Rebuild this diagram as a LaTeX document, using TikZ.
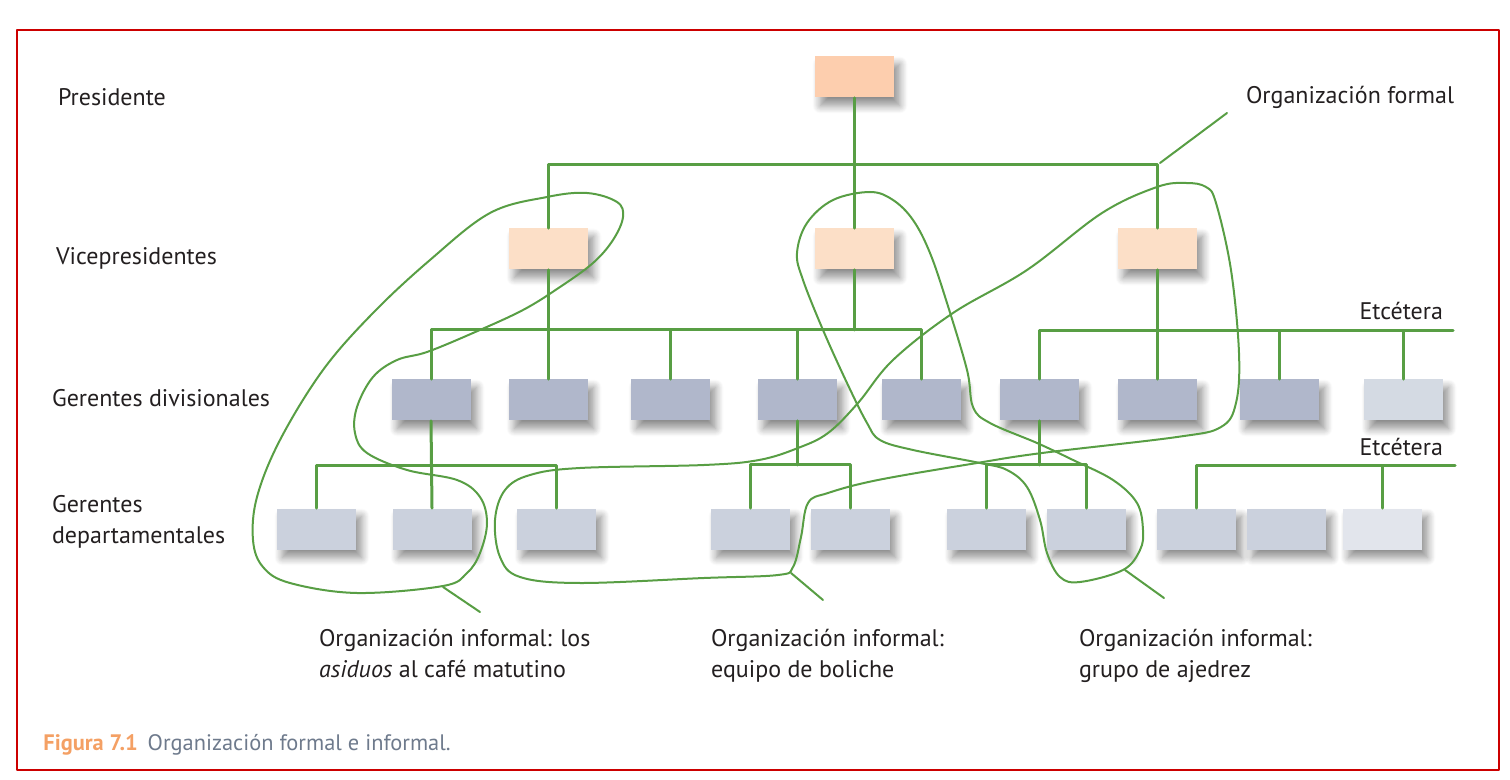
\documentclass[tikz,border=0pt]{standalone}
\usepackage{fontspec}
\setmainfont{PT Sans}
\usetikzlibrary{shadows.blur}
\definecolor{lineas}{RGB}{88,158,68}
\definecolor{presi}{RGB}{253,206,174}
\definecolor{vice}{RGB}{252,223,199}
\definecolor{divis}{RGB}{176,183,203}
\definecolor{divclaro}{RGB}{212,218,227}
\definecolor{depto}{RGB}{203,209,221}
\definecolor{depclaro}{RGB}{226,229,236}
\definecolor{marco}{RGB}{204,0,0}
\definecolor{naranja}{RGB}{244,160,100}
\definecolor{gristxt}{RGB}{110,122,140}
\definecolor{texto}{RGB}{35,31,32}
\begin{document}
\begin{tikzpicture}[x=0.5pt,y=-0.5pt,font=\fontsize{12}{15.5}\selectfont,text=texto,
    line join=round,line cap=round,
    caja/.style={minimum width=39.5pt,minimum height=20.5pt,inner sep=0pt,
        blur shadow={shadow xshift=3pt,shadow yshift=-4pt,shadow blur steps=10,shadow blur radius=4pt,shadow opacity=45}},
    rama/.style={lineas,line width=1.5pt},
    lazo/.style={lineas,line width=1pt}]
\useasboundingbox (0,0) rectangle (1510,780);
\draw[marco,line width=1pt] (17,30) rectangle (1499,770);

% niveles
\node[anchor=west] (lpres) at (51,97) {Presidente};
\node[anchor=west] (lvice) at (49,258) {Vicepresidentes};
\node[anchor=west] (ldiv) at (45,398) {Gerentes divisionales};
\node[anchor=west,align=left] (ldep) at (45,522) {Gerentes\\departamentales};

% cajas
\node[caja,fill=presi] (pres) at (854,77) {};
\foreach \n/\x in {1/548,2/854,3/1157}
    \node[caja,fill=vice] (vp\n) at (\x,249) {};
\foreach \n/\x in {1/431,2/548,3/670,4/797,5/921,6/1039,7/1157,8/1279}
    \node[caja,fill=divis] (gd\n) at (\x,400) {};
\node[caja,fill=divclaro] (gd9) at (1403,400) {};
\foreach \n/\x in {1/316,2/432,3/556,4/750,5/850,6/986,7/1086,8/1196,9/1286}
    \node[caja,fill=depto] (gp\n) at (\x,529) {};
\node[caja,fill=depclaro] (gp10) at (1382,529) {};

% organizacion formal
\coordinate (b1) at (854,165);
\coordinate (b2) at (854,330);
\coordinate (b3) at (1453,331);
\draw[rama] (pres.south) -- (vp2.north);
\draw[rama] (vp1.north) |- (b1) -| (vp3.north);
\draw[rama] (vp1.south) -- (gd2.north);
\draw[rama] (vp2.south) -- (b2);
\draw[rama] (gd1.north) |- (b2) -| (gd5.north);
\foreach \n in {3,4}
    \draw[rama] (gd\n.north) -- (gd\n.north |- b2);
\draw[rama] (vp3.south) -- (gd7.north);
\draw[rama] (gd6.north) |- (b3);
\foreach \n in {8,9}
    \draw[rama] (gd\n.north) -- (gd\n.north |- b3);
\node[anchor=base east] (etc1) at (1450,320) {Etcétera};

\coordinate (c1) at (432,466);
\coordinate (c2) at (797,465);
\coordinate (c3) at (1039,465);
\coordinate (c4) at (1455,466);
\draw[rama] (gd1.south) -- (gp2.north);
\draw[rama] (gp1.north) |- (c1) -| (gp3.north);
\draw[rama] (gd4.south) -- (c2);
\draw[rama] (gp4.north) |- (c2) -| (gp5.north);
\draw[rama] (gd6.south) -- (c3);
\draw[rama] (gp6.north) |- (c3) -| (gp7.north);
\draw[rama] (gp8.north) |- (c4);
\draw[rama] (gp10.north) -- (gp10.north |- c4);
\node[anchor=base east] (etc2) at (1450,456) {Etcétera};

\node[anchor=west] (formal) at (1239,97) {Organización formal};
\coordinate (f1) at (1227,113);
\coordinate (f2) at (1160,163);
\draw[lazo] (f1) -- (f2);

% organizacion informal
\draw[lazo] plot[smooth cycle,tension=0.6] coordinates {(617,202) (587,193) (547,197) (490,213) (430,260) (373,313)
    (323,370) (280,440) (257,497) (253,540) (263,567) (290,583) (357,593) (443,586) (467,573) (480,553)
    (487,523) (480,497) (457,480) (407,470) (367,453) (355,433) (357,407) (373,377) (397,360) (427,352)
    (473,333) (523,310) (560,287) (593,263) (613,240) (623,217)};
\draw[lazo] plot[smooth cycle,tension=0.6] coordinates {(1206,187) (1216,203) (1231,270) (1239,353) (1236,403)
    (1221,427) (1177,437) (1042,453) (977,463) (878,480) (828,493) (808,503) (801,537) (793,567) (778,575)
    (704,578) (580,583) (520,577) (500,557) (495,520) (505,490) (530,475) (580,468) (704,465) (759,460)
    (798,448) (828,433) (858,403) (893,360) (953,313) (1027,270) (1102,213) (1157,187) (1186,183)};
\draw[lazo] plot[smooth cycle,tension=0.6] coordinates {(870,192) (833,200) (807,223) (797,253) (803,280)
    (823,330) (847,383) (867,423) (880,440) (913,450) (980,463) (1007,470) (1027,487) (1040,520) (1047,553)
    (1060,577) (1080,582) (1123,570) (1140,550) (1143,530) (1137,503) (1113,480) (1073,460) (1037,443)
    (990,423) (973,407) (967,370) (947,303) (930,253) (913,220) (893,200)};

\coordinate (i1) at (443,587);
\coordinate (i2) at (480,612);
\coordinate (i3) at (791,573);
\coordinate (i4) at (823,600);
\coordinate (i5) at (1125,570);
\coordinate (i6) at (1164,598);
\draw[lazo] (i1) -- (i2);
\draw[lazo] (i3) -- (i4);
\draw[lazo] (i5) -- (i6);

\node[anchor=north west,align=left] (inf1) at (312,622) {Organización informal: los\\\textit{asiduos} al café matutino};
\node[anchor=north west,align=left] (inf2) at (704,622) {Organización informal:\\equipo de boliche};
\node[anchor=north west,align=left] (inf3) at (1072,622) {Organización informal:\\grupo de ajedrez};

% pie
\node[anchor=base west,inner sep=0pt,font=\fontsize{11.2}{13}\selectfont] (pie) at (43,750) {\textcolor{naranja}{\bfseries Figura 7.1}\hspace{5pt}\textcolor{gristxt}{Organización formal e informal.}};
\end{tikzpicture}
\end{document}
